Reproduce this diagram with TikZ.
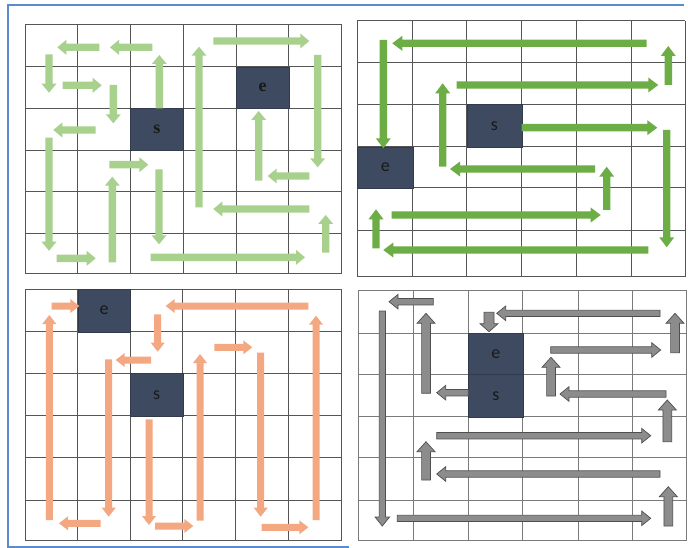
\documentclass[tikz,border=0pt]{standalone}
\usepackage{fontspec}
\setmainfont{Carlito}
\newfontfamily\serifcell{Liberation Serif}
\newfontfamily\sanscell{Carlito}
\usetikzlibrary{calc}
\definecolor{frameblue}{HTML}{5B8BCF}
\definecolor{gridgray}{HTML}{555555}
\definecolor{gridlight}{HTML}{7A7A7A}
\definecolor{cellfill}{HTML}{3D4A5F}
\definecolor{lgreen}{HTML}{A9D18E}
\definecolor{dgreen}{HTML}{6DAD45}
\definecolor{salmon}{HTML}{F4A882}
\definecolor{agray}{HTML}{8C8C8C}
\definecolor{agrayedge}{HTML}{4F4F4F}
\newcommand\setbarrow[3]{\def\bsw{#1}\def\bhw{#2}\def\bhl{#3}}
\newcommand\barrow[3][]{%
  \coordinate (bA) at #2; \coordinate (bB) at #3;
  \coordinate (bC) at ($(bB)!\bhl!(bA)$);
  \filldraw[#1] ($(bA)!\bsw!90:(bB)$) -- ($(bC)!\bsw!90:(bB)$) -- ($(bC)!\bhw!90:(bB)$) -- (bB)
    -- ($(bC)!\bhw!-90:(bB)$) -- ($(bC)!\bsw!-90:(bB)$) -- ($(bA)!\bsw!-90:(bB)$) -- cycle;}
\tikzset{
  gridline/.style={draw=gridgray, line width=0.9pt},
  gridlinelight/.style={draw=gridlight, line width=0.9pt},
  cellbox/.style={fill=cellfill, draw=cellfill!80!black, line width=0.6pt, inner sep=0pt, anchor=north west, text=black!90, font=\sanscell\fontsize{18}{20}\selectfont},
  arrA/.style={fill=lgreen, draw=none},
  arrB/.style={fill=dgreen, draw=none},
  arrC/.style={fill=salmon, draw=none},
  arrD/.style={fill=agray, draw=agrayedge, line width=0.7pt, line join=miter},
}
\begin{document}
\begin{tikzpicture}[x=1pt, y=-1pt]
\useasboundingbox (0,0) rectangle (688,548);
\fill[white] (0,0) rectangle (688,548);
% outer frame
\draw[frameblue, line width=1.6pt] (684,5) -- (8,5) -- (8,547) -- (349,547);

% ---------- panel 1 ----------
\foreach \x in {25,77.7,130,183.3,236,288.7,341.7} \draw[gridline] (\x,24.3) -- (\x,273.3);
\foreach \y in {24.3,66.7,108.3,150,191.7,233.3,273.3} \draw[gridline] (25,\y) -- (341.7,\y);
\node[cellbox, minimum width=53.3pt, minimum height=41.7pt, font=\serifcell\bfseries\fontsize{18}{20}\selectfont] (s1) at (130,108.3) {s};
\node[cellbox, minimum width=52.7pt, minimum height=41.6pt, font=\serifcell\bfseries\fontsize{18}{20}\selectfont] (e1) at (236,66.7) {e};
\setbarrow{3.7pt}{7.5pt}{9pt}
\barrow[arrA]{(99.3,47.3)}{(57.3,47.3)}
\barrow[arrA]{(152.3,47.3)}{(110,47.3)}
\barrow[arrA]{(159.3,108.3)}{(159.3,55)}
\barrow[arrA]{(199,207.3)}{(199,46.7)}
\barrow[arrA]{(213.3,41)}{(309.3,41)}
\barrow[arrA]{(317.7,55)}{(317.7,167.3)}
\barrow[arrA]{(49,54.3)}{(49,92.7)}
\barrow[arrA]{(62.7,85.3)}{(101.7,85.3)}
\barrow[arrA]{(113.3,85)}{(113.3,123.3)}
\barrow[arrA]{(95.7,130)}{(53.3,130)}
\barrow[arrA]{(49,137.7)}{(49,250.7)}
\barrow[arrA]{(109.3,164.7)}{(148.3,164.7)}
\barrow[arrA]{(112.3,262.3)}{(112.3,176.7)}
\barrow[arrA]{(159,169.3)}{(159,244.3)}
\barrow[arrA]{(56.7,258.3)}{(95.7,258.3)}
\barrow[arrA]{(150.7,257.3)}{(305,257.3)}
\barrow[arrA]{(325.7,252.7)}{(325.7,215)}
\barrow[arrA]{(309.3,209)}{(213.3,209)}
\barrow[arrA]{(309.3,176)}{(267.7,176)}
\barrow[arrA]{(258.7,180.7)}{(258.7,111)}

% ---------- panel 2 ----------
\foreach \x in {357.3,412.7,466.7,521.7,576.7,631.7,685} \draw[gridline] (\x,20.7) -- (\x,276.7);
\foreach \y in {20.7,62.7,104.3,146.7,187.7,230,276.7} \draw[gridline] (357.3,\y) -- (685,\y);
\node[cellbox, minimum width=55pt, minimum height=42.4pt] (s2) at (466.7,104.3) {s};
\node[cellbox, minimum width=55.4pt, minimum height=41pt] (e2) at (357.3,146.7) {e};
\setbarrow{3.7pt}{7.5pt}{10pt}
\barrow[arrB]{(646.7,43.3)}{(392.3,43.3)}
\barrow[arrB]{(383.3,40)}{(383.3,148.3)}
\barrow[arrB]{(668.3,85)}{(668.3,46)}
\barrow[arrB]{(456.7,85)}{(658.3,85)}
\barrow[arrB]{(442.7,166.7)}{(442.7,83.3)}
\barrow[arrB]{(521.7,127.7)}{(657.3,127.7)}
\barrow[arrB]{(666.7,130)}{(666.7,247.3)}
\barrow[arrB]{(595,169)}{(450,169)}
\barrow[arrB]{(606.7,210)}{(606.7,166.7)}
\barrow[arrB]{(391.7,215)}{(600.7,215)}
\barrow[arrB]{(376,248.3)}{(376,209.3)}
\barrow[arrB]{(648.3,250)}{(383.3,250)}

% ---------- panel 3 ----------
\foreach \x in {25,77.7,130,182.7,235.3,288,341.7} \draw[gridline] (\x,289) -- (\x,540.7);
\foreach \y in {289,331.7,373.3,415.7,457.3,500,540.7} \draw[gridline] (25,\y) -- (341.7,\y);
\node[cellbox, minimum width=52.3pt, minimum height=42.7pt] (e3) at (77.7,289) {e};
\node[cellbox, minimum width=52.7pt, minimum height=42.4pt] (s3) at (130,373.3) {s};
\setbarrow{3.5pt}{7pt}{9pt}
\barrow[arrC]{(51.7,306)}{(79.3,306)}
\barrow[arrC]{(49.3,520)}{(49.3,315)}
\barrow[arrC]{(308.3,306)}{(165.7,306)}
\barrow[arrC]{(316,520)}{(316,315.7)}
\barrow[arrC]{(157.7,314.3)}{(157.7,351.7)}
\barrow[arrC]{(151,360)}{(115.7,360)}
\barrow[arrC]{(108.7,359.3)}{(108.7,516.7)}
\barrow[arrC]{(100.7,523.3)}{(59,523.3)}
\barrow[arrC]{(149,419.3)}{(149,525)}
\barrow[arrC]{(155,526)}{(193.3,526)}
\barrow[arrC]{(200,520.7)}{(200,354)}
\barrow[arrC]{(214.3,347.3)}{(252.3,347.3)}
\barrow[arrC]{(260.7,352.7)}{(260.7,516.7)}
\barrow[arrC]{(261.7,527.3)}{(308.3,527.3)}

% ---------- panel 4 ----------
\foreach \x in {358.3,413.3,468.3,522.7,578,632.7,686.7} \draw[gridlinelight] (\x,290) -- (\x,540.7);
\foreach \y in {290,333.3,374.3,416.7,457.7,500,540.7} \draw[gridlinelight] (358.3,\y) -- (686.7,\y);
\node[cellbox, minimum width=54.4pt, minimum height=41pt] (e4) at (468.3,333.3) {e};
\node[cellbox, minimum width=54.4pt, minimum height=42.4pt] (s4) at (468.3,374.3) {s};
\setbarrow{3.2pt}{7.3pt}{9pt}
\barrow[arrD]{(433.3,301.7)}{(389,301.7)}
\barrow[arrD]{(382.3,311)}{(382.3,526)}
\barrow[arrD]{(660,313.3)}{(496.7,313.3)}
\barrow[arrD]{(550.7,350)}{(660.7,350)}
\barrow[arrD]{(666,394)}{(560,394)}
\barrow[arrD]{(468.3,392.7)}{(436.7,392.7)}
\barrow[arrD]{(436.7,435.7)}{(650.7,435.7)}
\barrow[arrD]{(660,474)}{(436.7,474)}
\barrow[arrD]{(397.3,518.3)}{(650.7,518.3)}
\setbarrow{4.4pt}{9pt}{10pt}
\barrow[arrD]{(426,393.3)}{(426,313.3)}
\barrow[arrD]{(675,352.7)}{(675,313.3)}
\barrow[arrD]{(551,396)}{(551,357.3)}
\barrow[arrD]{(667.3,441.7)}{(667.3,400)}
\barrow[arrD]{(426,480)}{(426,441.7)}
\barrow[arrD]{(668.3,526)}{(668.3,486.7)}
\setbarrow{5pt}{9pt}{8pt}
\barrow[arrD]{(489,312.3)}{(489,331.7)}
\end{tikzpicture}
\end{document}
